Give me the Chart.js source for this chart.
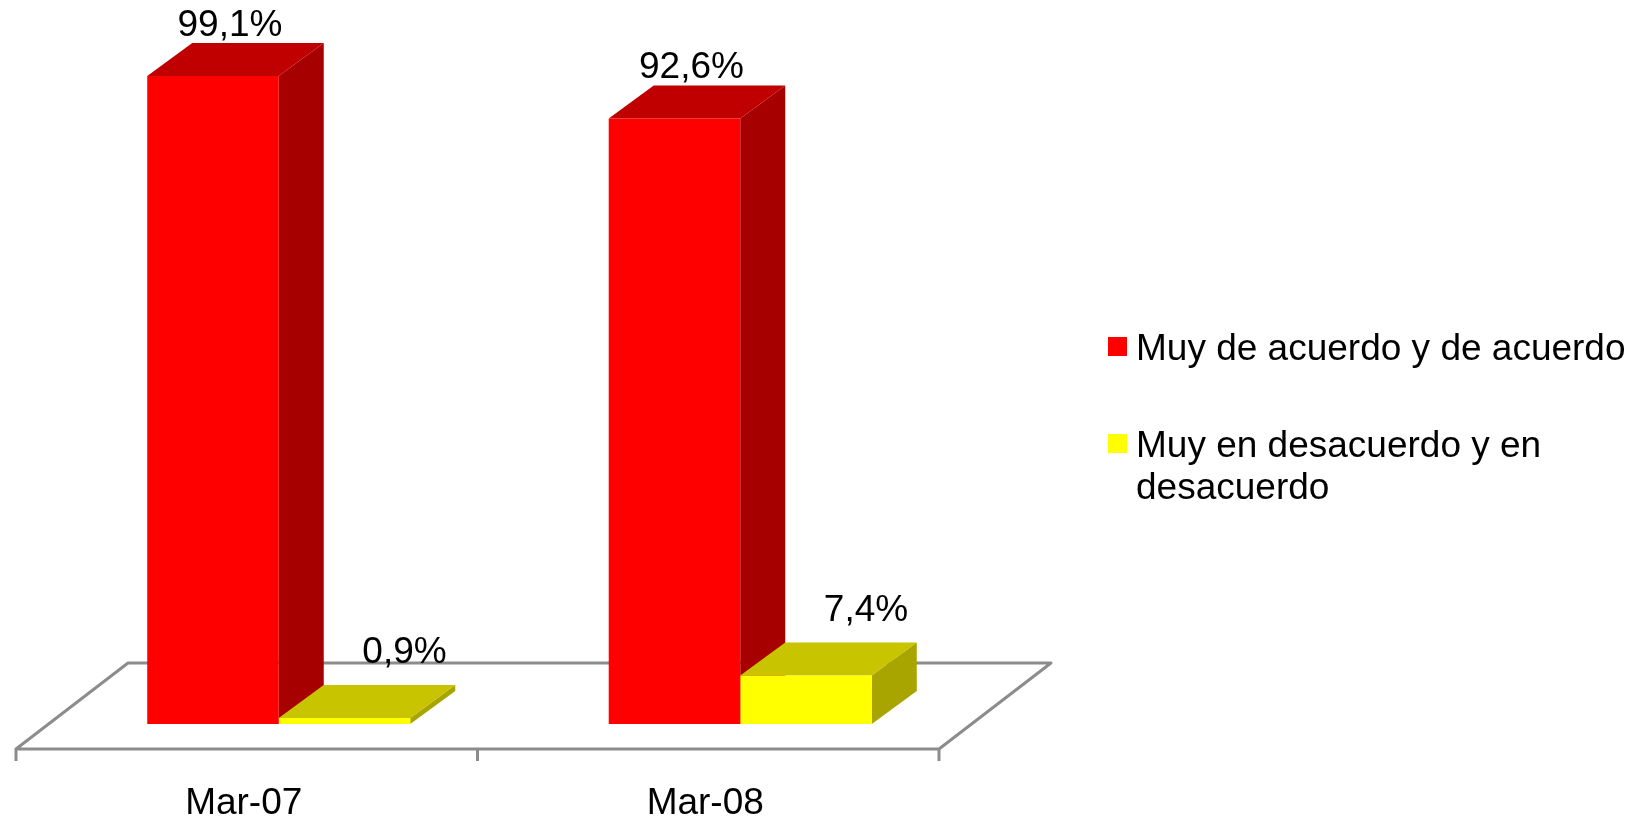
<!DOCTYPE html>
<html>
<head>
<meta charset="utf-8">
<title>Muy de acuerdo / en desacuerdo</title>
<script src="https://cdn.jsdelivr.net/npm/chart.js@4/dist/chart.umd.min.js"></script>
<style>
    body { margin: 0; background: #fff; }
    #wrap { position: relative; width: 1642px; height: 820px; }
    #legend {
        position: absolute; left: 1108px; top: 327px; width: 530px;
        font-family: "Liberation Sans", Arial, sans-serif; font-size: 37px; line-height: 42px; color: #000;
    }
    .item { position: relative; padding-left: 28px; margin-bottom: 55px; }
    .box { position: absolute; left: 0; top: 10px; width: 19px; height: 19px; }
</style>
</head>
<body>
<div id="wrap">
    <canvas id="barChart"></canvas>
    <div id="legend"></div>
</div>
<script>
const categories = ['Mar-07', 'Mar-08'];
const seriesNames = ['Muy de acuerdo y de acuerdo', 'Muy en desacuerdo y en desacuerdo'];
const acuerdo = [99.1, 92.6];
const desacuerdo = [0.9, 7.4];

// colours for front, top and side faces of each series
const faces = [
    { front: '#ff0000', top: '#c00000', side: '#a60000' },
    { front: '#ffff00', top: '#c8c400', side: '#a8a400' }
];
// where Excel put the value labels, relative to the bar front top
const labelShift = [{ dx: 17, dy: -40 }, { dx: 60, dy: -55 }];

const DEPTH_X = 45, DEPTH_Y = -33;
const FONT = '"Liberation Sans", Arial, sans-serif';

// floor parallelogram, 3d tops/sides of the bars and the value labels
const floor3d = {
    id: 'floor3d',
    beforeDatasetsDraw(chart) {
        const ctx = chart.ctx;
        const x = chart.scales.x;
        const area = chart.chartArea;
        const mid = (x.getPixelForValue(0) + x.getPixelForValue(1)) / 2;
        const fy = area.bottom + 25, by = area.bottom - 61;

        ctx.save();
        ctx.strokeStyle = '#8c8c8c';
        ctx.lineWidth = 3;
        ctx.lineJoin = 'round';
        ctx.beginPath();
        ctx.moveTo(area.left - 32, fy);
        ctx.lineTo(area.left + 80, by);
        ctx.lineTo(area.right + 80, by);
        ctx.lineTo(area.right - 32, fy);
        ctx.closePath();
        ctx.stroke();
        // tick marks under the front edge
        [area.left, mid, area.right].forEach(px => {
            ctx.beginPath();
            ctx.moveTo(px - 32, fy);
            ctx.lineTo(px - 32, fy + 12);
            ctx.stroke();
        });

        // tops and sides, first series first so the yellow top covers the red side
        for (let j = 0; j < categories.length; j++) {
            for (let idx = 0; idx < 2; idx++) {
                const bar = chart.getDatasetMeta(idx).data[j];
                const l = bar.x - bar.width / 2, r = bar.x + bar.width / 2;
                ctx.fillStyle = faces[idx].side;
                ctx.beginPath();
                ctx.moveTo(r, bar.y);
                ctx.lineTo(r + DEPTH_X, bar.y + DEPTH_Y);
                ctx.lineTo(r + DEPTH_X, bar.base + DEPTH_Y);
                ctx.lineTo(r, bar.base);
                ctx.closePath();
                ctx.fill();
                ctx.fillStyle = faces[idx].top;
                ctx.beginPath();
                ctx.moveTo(l, bar.y);
                ctx.lineTo(l + DEPTH_X, bar.y + DEPTH_Y);
                ctx.lineTo(r + DEPTH_X, bar.y + DEPTH_Y);
                ctx.lineTo(r, bar.y);
                ctx.closePath();
                ctx.fill();
            }
        }
        ctx.restore();
    },
    afterDatasetsDraw(chart) {
        const ctx = chart.ctx;
        ctx.save();
        ctx.font = '37px ' + FONT;
        ctx.fillStyle = '#000';
        ctx.textAlign = 'center';
        ctx.textBaseline = 'alphabetic';
        chart.data.datasets.forEach((ds, idx) => {
            chart.getDatasetMeta(idx).data.forEach((bar, j) => {
                const txt = ds.data[j].toFixed(1).replace('.', ',') + '%';
                ctx.fillText(txt, bar.x + labelShift[idx].dx, bar.y + labelShift[idx].dy);
            });
        });
        ctx.restore();
    }
};

const ctx = document.getElementById('barChart').getContext('2d');
const barChart = new Chart(ctx, {
    type: 'bar',
    data: {
        labels: categories,
        datasets: [
            {
                label: seriesNames[0],
                data: acuerdo,
                backgroundColor: faces[0].front,
                borderWidth: 0
            },
            {
                label: seriesNames[1],
                data: desacuerdo,
                backgroundColor: faces[1].front,
                borderWidth: 0
            }
        ]
    },
    options: {
        responsive: true,
        maintainAspectRatio: false,
        animation: false,
        layout: { padding: { left: 48, right: 671, top: 70, bottom: 0 } },
        datasets: { bar: { categoryPercentage: 0.57, barPercentage: 1 } },
        plugins: {
            legend: { display: false },
            tooltip: { enabled: false }
        },
        scales: {
            y: { display: false, min: 0, max: 100 },
            x: {
                grid: { display: false, drawTicks: false },
                border: { display: false },
                afterFit: (scale) => { scale.height = 96; },
                ticks: {
                    color: '#000',
                    font: { family: FONT, size: 37 },
                    padding: 58,
                    labelOffset: -35
                }
            }
        }
    },
    plugins: [floor3d]
});

// legend drawn next to the chart so the long name can wrap
const legendEl = document.getElementById('legend');
barChart.data.datasets.forEach((ds) => {
    const item = document.createElement('div');
    item.className = 'item';
    const box = document.createElement('span');
    box.className = 'box';
    box.style.background = ds.backgroundColor;
    item.appendChild(box);
    item.appendChild(document.createTextNode(ds.label));
    legendEl.appendChild(item);
});
</script>
</body>
</html>
